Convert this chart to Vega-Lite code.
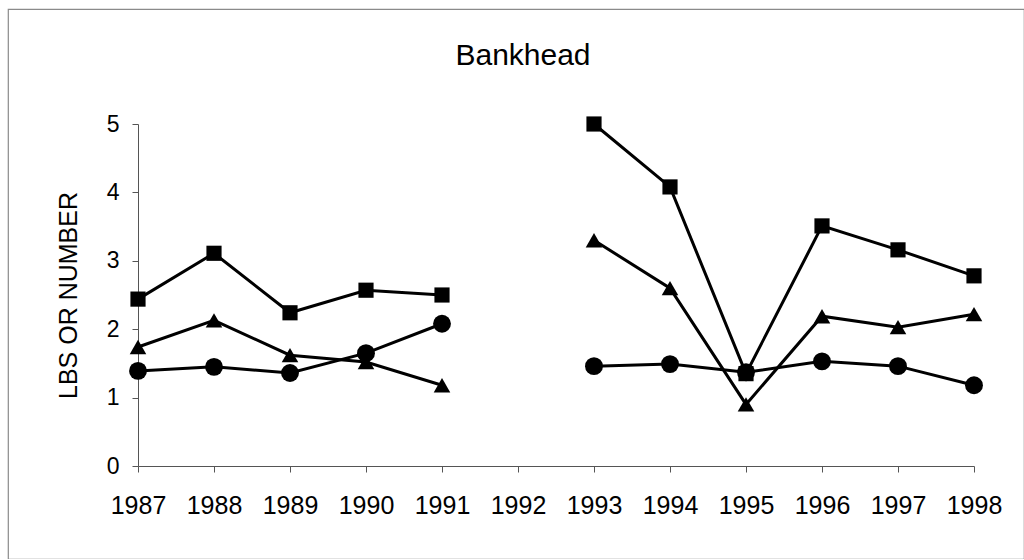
{
  "$schema": "https://vega.github.io/schema/vega-lite/v6.json",
  "autosize": {"type": "none"},
  "padding": {"left": 8, "top": 9, "right": 0, "bottom": 0},
  "width": 1016,
  "height": 550,
  "background": "white",
  "title": {
    "text": "Bankhead",
    "font": "Liberation Sans",
    "fontSize": 30,
    "fontWeight": "normal",
    "color": "black",
    "anchor": "middle",
    "frame": "group",
    "offset": 0,
    "dy": 62,
    "dx": 7
  },
  "config": {
    "view": {"stroke": "#8a8a8a", "strokeWidth": 1.2},
    "axis": {
      "grid": false,
      "domainColor": "#555555",
      "domainWidth": 1,
      "tickColor": "#555555",
      "tickWidth": 1,
      "tickSize": 6,
      "labelColor": "black",
      "labelFont": "Liberation Sans",
      "titleFont": "Liberation Sans",
      "titleColor": "black",
      "titleFontWeight": "normal"
    }
  },
  "data": {
    "values": [
      {"year": 1987, "series": "Square", "period": "A", "value": 2.44},
      {"year": 1988, "series": "Square", "period": "A", "value": 3.11},
      {"year": 1989, "series": "Square", "period": "A", "value": 2.24},
      {"year": 1990, "series": "Square", "period": "A", "value": 2.57},
      {"year": 1991, "series": "Square", "period": "A", "value": 2.5},
      {"year": 1993, "series": "Square", "period": "B", "value": 5.0},
      {"year": 1994, "series": "Square", "period": "B", "value": 4.08},
      {"year": 1995, "series": "Square", "period": "B", "value": 1.35},
      {"year": 1996, "series": "Square", "period": "B", "value": 3.51},
      {"year": 1997, "series": "Square", "period": "B", "value": 3.16},
      {"year": 1998, "series": "Square", "period": "B", "value": 2.78},
      {"year": 1987, "series": "Triangle", "period": "A", "value": 1.74},
      {"year": 1988, "series": "Triangle", "period": "A", "value": 2.13},
      {"year": 1989, "series": "Triangle", "period": "A", "value": 1.62},
      {"year": 1990, "series": "Triangle", "period": "A", "value": 1.52},
      {"year": 1991, "series": "Triangle", "period": "A", "value": 1.18},
      {"year": 1993, "series": "Triangle", "period": "B", "value": 3.3},
      {"year": 1994, "series": "Triangle", "period": "B", "value": 2.6},
      {"year": 1995, "series": "Triangle", "period": "B", "value": 0.9},
      {"year": 1996, "series": "Triangle", "period": "B", "value": 2.19},
      {"year": 1997, "series": "Triangle", "period": "B", "value": 2.03},
      {"year": 1998, "series": "Triangle", "period": "B", "value": 2.22},
      {"year": 1987, "series": "Circle", "period": "A", "value": 1.39},
      {"year": 1988, "series": "Circle", "period": "A", "value": 1.45},
      {"year": 1989, "series": "Circle", "period": "A", "value": 1.36},
      {"year": 1990, "series": "Circle", "period": "A", "value": 1.65},
      {"year": 1991, "series": "Circle", "period": "A", "value": 2.08},
      {"year": 1993, "series": "Circle", "period": "B", "value": 1.46},
      {"year": 1994, "series": "Circle", "period": "B", "value": 1.49},
      {"year": 1995, "series": "Circle", "period": "B", "value": 1.37},
      {"year": 1996, "series": "Circle", "period": "B", "value": 1.53},
      {"year": 1997, "series": "Circle", "period": "B", "value": 1.46},
      {"year": 1998, "series": "Circle", "period": "B", "value": 1.18}
    ]
  },
  "encoding": {
    "x": {
      "field": "year",
      "type": "quantitative",
      "scale": {"domain": [1987, 1998], "range": [130, 966], "nice": false, "zero": false},
      "axis": {
        "title": null,
        "values": [1987, 1988, 1989, 1990, 1991, 1992, 1993, 1994, 1995, 1996, 1997, 1998],
        "format": "d",
        "offset": -93,
        "labelFontSize": 25,
        "labelPadding": 21,
        "labelFlush": false,
        "labelOverlap": false
      }
    },
    "y": {
      "field": "value",
      "type": "quantitative",
      "scale": {"domain": [0, 5], "range": [457, 115], "nice": false},
      "axis": {
        "title": "LBS OR NUMBER",
        "values": [0, 1, 2, 3, 4, 5],
        "offset": -130,
        "labelFontSize": 23,
        "labelPadding": 13,
        "titleFontSize": 25,
        "titleAngle": -90,
        "titleX": -70,
        "titleY": 286,
        "titleBaseline": "middle",
        "titleAlign": "center"
      }
    }
  },
  "layer": [
    {
      "mark": {"type": "line", "color": "black", "strokeWidth": 3},
      "encoding": {
        "detail": [{"field": "series"}, {"field": "period"}]
      }
    },
    {
      "mark": {"type": "point", "filled": true, "color": "black", "opacity": 1},
      "encoding": {
        "shape": {
          "field": "series",
          "type": "nominal",
          "scale": {"domain": ["Square", "Triangle", "Circle"], "range": ["square", "triangle-up", "circle"]},
          "legend": null
        },
        "size": {
          "field": "series",
          "type": "nominal",
          "scale": {"domain": ["Square", "Triangle", "Circle"], "range": [230, 320, 200]},
          "legend": null
        }
      }
    }
  ]
}
